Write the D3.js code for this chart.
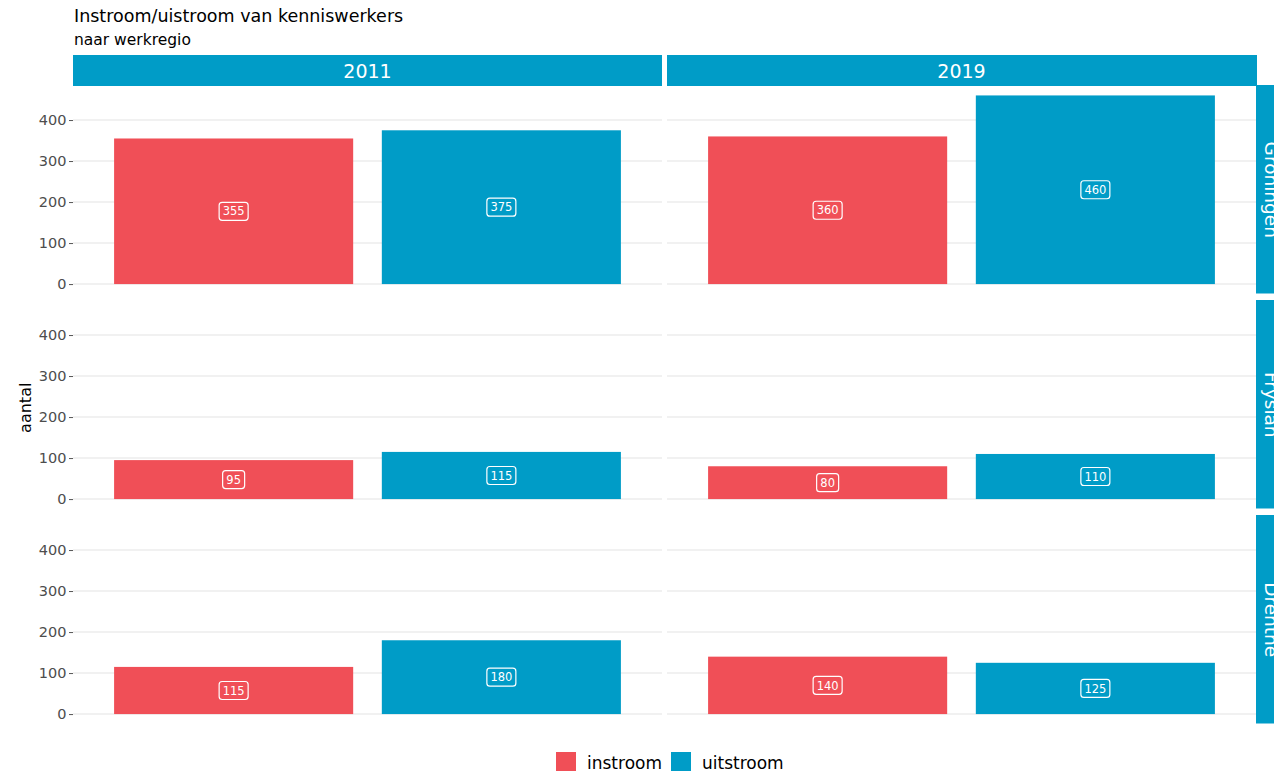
<!DOCTYPE html>
<html>
<head>
<meta charset="utf-8">
<script src="https://cdn.jsdelivr.net/npm/d3@7"></script>
<style>
  body { margin: 0; background: #fff; }
  svg { font-family: 'DejaVu Sans', sans-serif; }
</style>
</head>
<body>
<script>
// data
var years = ['2011', '2019'];
var regions = ['Groningen', 'Frysian', 'Drenthe'];
var types = ['instroom', 'uitstroom'];
var instroom2011 = [355, 95, 115];
var uitstroom2011 = [375, 115, 180];
var instroom2019 = [360, 80, 140];
var uitstroom2019 = [460, 110, 125];
var yTicks = [0, 100, 200, 300, 400];

var colors = { instroom: '#f04f57', uitstroom: '#009cc7' };
var blue = '#009cc7';

var rows = [];
regions.forEach(function(r, i) {
  rows.push({ year: '2011', region: r, type: 'instroom', value: instroom2011[i] });
  rows.push({ year: '2011', region: r, type: 'uitstroom', value: uitstroom2011[i] });
  rows.push({ year: '2019', region: r, type: 'instroom', value: instroom2019[i] });
  rows.push({ year: '2019', region: r, type: 'uitstroom', value: uitstroom2019[i] });
});

var W = 1274, H = 772;
var panelLeft = 73, panelW = 589, colStep = 594;
var panelTop = 86, panelH = 207.5, rowStep = 215;

var svg = d3.select('body').append('svg')
  .attr('width', W)
  .attr('height', H);

// title
svg.append('text').attr('x', 74).attr('y', 22)
  .attr('font-size', 17.5).attr('fill', '#000')
  .text('Instroom/uistroom van kenniswerkers');
svg.append('text').attr('x', 74).attr('y', 45)
  .attr('font-size', 15.5).attr('fill', '#000')
  .text('naar werkregio');

var maxV = d3.max(rows, function(d) { return d.value; });
var expand = maxV * 0.05;

// discrete x like ggplot: 0.6 units expansion each side, bar width ~0.9
var x = d3.scalePoint().domain(types).range([0, panelW]).padding(0.6);
var unit = x.step();
var barW = 0.893 * unit;

var y = d3.scaleLinear().domain([-expand, maxV + expand]).range([panelH, 0]);

// top strips
years.forEach(function(yr, j) {
  var gx = panelLeft + j * colStep;
  svg.append('rect').attr('x', gx).attr('y', 55)
    .attr('width', panelW + (j == 1 ? 1 : 0)).attr('height', 31).attr('fill', blue);
  svg.append('text').attr('x', gx + panelW / 2).attr('y', 77.5)
    .attr('text-anchor', 'middle').attr('font-size', 19).attr('fill', '#fff')
    .text(yr);
});

// right strips (cut off by the page edge, as in the original)
regions.forEach(function(rg, i) {
  var gy = panelTop + i * rowStep;
  svg.append('rect').attr('x', 1256).attr('y', gy - 1)
    .attr('width', 32).attr('height', panelH + 1).attr('fill', blue);
  svg.append('text')
    .attr('transform', 'translate(1265,' + (gy + panelH / 2) + ') rotate(90)')
    .attr('text-anchor', 'middle').attr('font-size', 18.5).attr('fill', '#fff')
    .text(rg);
});

// panels
regions.forEach(function(rg, i) {
  years.forEach(function(yr, j) {
    var g = svg.append('g')
      .attr('transform', 'translate(' + (panelLeft + j * colStep) + ',' + (panelTop + i * rowStep) + ')');

    g.selectAll('line.grid')
      .data(yTicks)
      .enter()
      .append('line')
      .attr('x1', 0).attr('x2', panelW)
      .attr('y1', function(v) { return y(v); })
      .attr('y2', function(v) { return y(v); })
      .attr('stroke', '#e3e3e3').attr('stroke-width', 1.1);

    if (j == 0) {
      var ax = g.append('g')
        .call(d3.axisLeft(y).tickValues(yTicks).tickSize(4).tickPadding(2.5));
      ax.select('.domain').remove();
      ax.selectAll('line').attr('stroke', '#555');
      ax.selectAll('text').attr('font-size', 14.5).attr('fill', '#4d4d4d')
        .attr('font-family', "'DejaVu Sans', sans-serif");
    }

    var data = rows.filter(function(d) { return d.year == yr && d.region == rg; });

    g.selectAll('rect.bar')
      .data(data)
      .enter()
      .append('rect')
      .attr('x', function(d) { return x(d.type) - barW / 2; })
      .attr('width', barW)
      .attr('y', function(d) { return y(d.value); })
      .attr('height', function(d) { return y(0) - y(d.value); })
      .attr('fill', function(d) { return colors[d.type]; });

    var lab = g.selectAll('g.lab')
      .data(data)
      .enter()
      .append('g')
      .attr('transform', function(d) {
        return 'translate(' + x(d.type) + ',' + y(d.value / 2) + ')';
      });
    lab.append('rect')
      .attr('x', function(d) { return d.value >= 100 ? -14.5 : -11; })
      .attr('width', function(d) { return d.value >= 100 ? 29 : 22; })
      .attr('y', -9).attr('height', 18)
      .attr('rx', 3)
      .attr('fill', 'none').attr('stroke', '#fff').attr('stroke-width', 1.2);
    lab.append('text')
      .attr('text-anchor', 'middle').attr('y', 4.2)
      .attr('font-size', 11.5).attr('fill', '#fff')
      .text(function(d) { return d.value; });
  });
});

// y axis title
svg.append('text')
  .attr('transform', 'translate(31,' + (panelTop + (2 * rowStep + panelH) / 2 + 3) + ') rotate(-90)')
  .attr('text-anchor', 'middle').attr('font-size', 16).attr('fill', '#000')
  .text('aantal');

// legend
var legend = svg.append('g').attr('transform', 'translate(556,752)');
var lx = [0, 115];
types.forEach(function(t, k) {
  legend.append('rect').attr('x', lx[k]).attr('y', 0)
    .attr('width', 20).attr('height', 19).attr('fill', colors[t]);
  legend.append('text').attr('x', lx[k] + 31).attr('y', 17)
    .attr('font-size', 17).attr('fill', '#000')
    .text(t);
});
</script>
</body>
</html>
